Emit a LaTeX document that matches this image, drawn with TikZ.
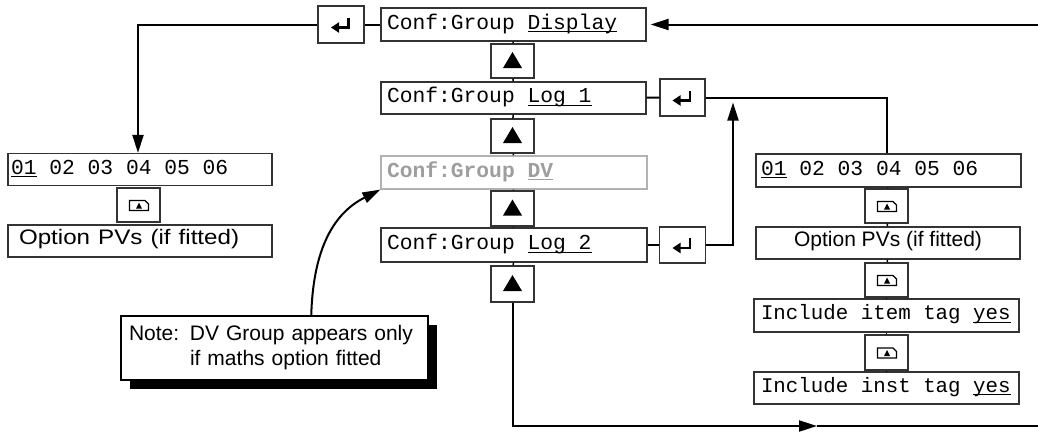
\documentclass[tikz,border=0pt]{standalone}
\usepackage{fontspec}
\usepackage{graphicx}
\setmainfont{Liberation Sans}
\setsansfont{Liberation Sans}
\setmonofont{Liberation Mono}
\usetikzlibrary{arrows.meta,calc,shadows}
\newlength\ulwd
\newcommand\ulx[1]{\settowidth\ulwd{#1}\rlap{\rule[-3.2pt]{\ulwd}{1pt}}#1}
\newcommand\vs{\hspace*{0.6em}}
\newcommand\monosz[1]{\ttfamily\fontsize{#1}{24}\selectfont}
\begin{document}
\begin{tikzpicture}[x=1pt,y=-1pt,
  box/.style={draw=black!80, line width=1.2pt, rectangle, inner sep=0pt, fill=white},
  lcd/.style={box, minimum height=33pt, text height=12.2pt, text depth=3pt, align=left, font=\monosz{21.3}},
  lcdg/.style={lcd, draw=black!30, text=black!38, font=\monosz{21.3}\bfseries},
  inc/.style={lcd, font=\monosz{20.8}, text depth=4pt},
  sbox/.style={box, minimum width=264pt, minimum height=32pt, text height=15pt, text depth=8pt, font=\sffamily\fontsize{21}{24}\selectfont},
  key/.style={box, minimum width=43pt, minimum height=34pt},
  conn/.style={line width=2pt, black},
  arr/.style={conn, -{Triangle[length=18pt,width=11pt]}},
  link/.style={line width=1.5pt, black}
]
\useasboundingbox (0,0) rectangle (1038,432);

% middle column
\node[lcd, text width=253pt, inner xsep=6pt] (disp) at (513.5,24.5) {Conf:Group\vs\ulx{Display}};
\node[key, minimum width=46pt, minimum height=37pt] (ent1) at (341,24.5) {};
\node[key] (up1) at (512.5,61) {};
\node[lcd, text width=253pt, inner xsep=6pt, minimum height=32pt] (log1) at (513.5,98) {Conf:Group\vs\ulx{Log\vs 1}};
\node[key, minimum width=45pt, minimum height=37pt] (ent2) at (682.5,97.5) {};
\node[key] (up2) at (512.5,136) {};
\node[lcdg, text width=254pt, inner xsep=6pt] (dv) at (514,172.5) {Conf:Group\vs\ulx{DV}};
\node[key, minimum height=35pt] (up3) at (512.5,208.5) {};
\node[lcd, text width=254pt, inner xsep=6pt, minimum height=34pt] (log2) at (514,245) {Conf:Group\vs\ulx{Log\vs 2}};
\node[key, minimum width=46pt, minimum height=36pt] (ent3) at (682.5,245) {};
\node[key, minimum height=36pt] (up4) at (512.5,284) {};

% left column
\node[lcd, text width=258pt, inner xsep=3pt, minimum height=32pt] (l01) at (140,169.5) {\ulx{01}\vs 02\vs 03\vs 04\vs 05\vs 06};
\node[key] (lic) at (138.5,205) {};
\node[sbox, text width=242pt, inner xsep=11pt, align=left] (lopt) at (140,241) {\scalebox{1.15}[1]{Option PVs (if fitted)}};

% right column
\node[lcd, text width=255pt, inner xsep=5pt] (r01) at (888.5,170.5) {\ulx{01}\vs 02\vs 03\vs 04\vs 05\vs 06};
\node[key] (ric1) at (886.5,206) {};
\node[sbox] (ropt) at (888,243) {Option PVs (if fitted)};
\node[key] (ric2) at (886.5,280) {};
\node[inc, text width=251pt, inner xsep=7pt] (ritem) at (886.5,315.5) {Include\vs item\vs tag\vs\ulx{yes}};
\node[key, minimum height=35pt] (ric3) at (886.5,352.5) {};
\node[inc, text width=251pt, inner xsep=7pt, minimum height=32pt] (rinst) at (886.5,388) {Include\vs inst\vs tag\vs\ulx{yes}};

% note
\node[draw=black, line width=1.5pt, fill=white,
  general shadow={fill=black, shadow xshift=8.5pt, shadow yshift=-9pt},
  minimum width=307pt, minimum height=64pt, text width=291pt, inner xsep=8pt,
  align=left, font=\sffamily\fontsize{21}{25}\selectfont] (note) at (274.5,348)
  {\makebox[61pt][l]{Note:}DV Group appears only\\\hspace*{61pt}if maths option fitted};

% key symbols
\foreach \n in {ent1,ent2,ent3}
  \draw[line width=2.2pt, -{Triangle[length=8pt,width=10pt]}] ($(\n)+(7.5,-7)$) -- ($(\n)+(7.5,3)$) -- ($(\n)+(-10,3)$);
\foreach \n in {up1,up2,up3,up4}
  \fill ($(\n)+(-9.5,7)$) -- ($(\n)+(9.5,7)$) -- ($(\n)+(0,-9)$) -- cycle;
\foreach \n in {lic,ric1,ric2,ric3} {
  \draw[line width=1.4pt, line join=miter] ($(\n)+(-9,-4.5)$) -- ($(\n)+(6.5,-4.5)$) -- ($(\n)+(10,-1)$) -- ($(\n)+(10,5.5)$) -- ($(\n)+(-9,5.5)$) -- cycle;
  \fill ($(\n)+(-2.5,3.5)$) -- ($(\n)+(3.5,3.5)$) -- ($(\n)+(0.5,-2.5)$) -- cycle;
}

% coordinates
\coordinate (c1) at (138,24.5);
\coordinate (c2) at (887,97.5);
\coordinate (c3) at (733,245);
\coordinate (c4) at (512.5,426);
\coordinate (cm) at (817,426);
\coordinate (botR) at (1038,426);
\coordinate (topR) at (1038,24.5);

% connectors
\draw[arr, shorten >=4pt] (topR) -- (disp.east);
\draw[conn] (ent1) -- (disp);
\draw[arr] (ent1.west) -- (c1) -- (c1 |- l01.north);
\draw[conn] (log1) -- (ent2);
\draw[conn] (ent2.east) -- (c2) -- (c2 |- r01.north);
\draw[conn] (log2) -- (ent3);
\draw[arr, shorten >=5pt] (ent3.east) -- (c3) -- (c3 |- c2);
\draw[arr] (up4.south) -- (c4) -- (cm);
\draw[conn] (cm) -- (botR);
\foreach \a/\b in {disp/up1, up1/log1, log1/up2, up2/dv, dv/up3, up3/log2, log2/up4, r01/ric1, ric1/ropt, ropt/ric2, ric2/ritem, ritem/ric3, ric3/rinst}
  \draw[link] (\a) -- (\b);
\draw[arr] ($(note.north west)+(191,0)$) .. controls (313,255) and (330,215) .. (dv.south west);
\end{tikzpicture}
\end{document}
